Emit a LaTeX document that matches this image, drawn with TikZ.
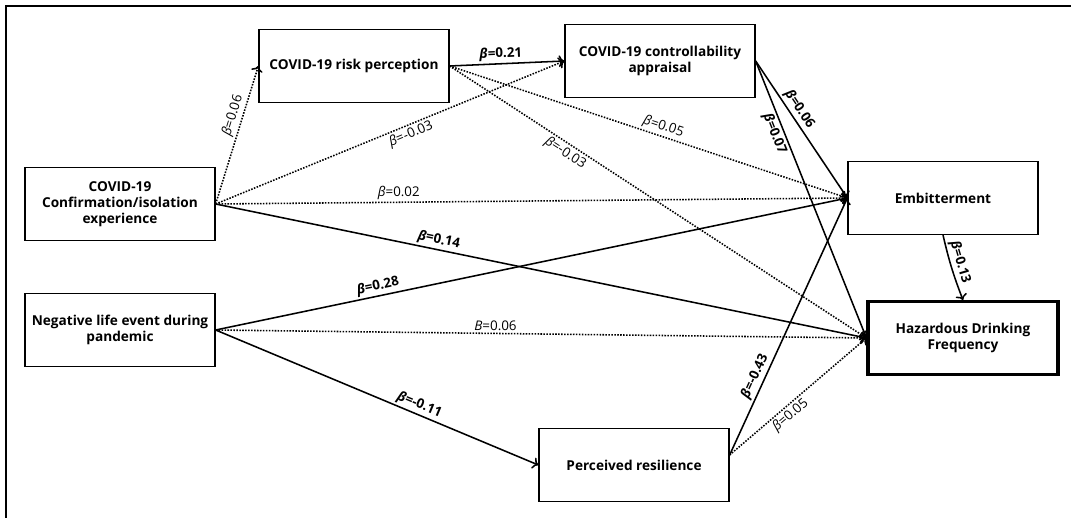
\documentclass[tikz,border=0pt]{standalone}
\usepackage{fontspec}
\setmainfont{Open Sans}
\usetikzlibrary{positioning, arrows.meta}

\newcommand{\bcoef}[1]{{\itshape β}=#1}

\tikzset{
    var/.style={draw, line width=0.9pt, minimum width=4.75cm, minimum height=1.82cm,
        align=center, font=\bfseries\fontsize{9.7}{11.5}\selectfont, inner sep=2pt},
    outcome/.style={var, line width=2.2pt},
    sig/.style={-{To[length=4pt]}, line width=1.1pt},
    nonsig/.style={-{To[length=4pt]}, line width=1.1pt, densely dotted},
    coef/.style={sloped, inner sep=1.5pt, font=\fontsize{9.5}{11}\selectfont},
    bcoefb/.style={coef, font=\bfseries\fontsize{9.5}{11}\selectfont},
}

\begin{document}
\begin{tikzpicture}[x=0.025cm, y=-0.025cm]
        \useasboundingbox (0,0) rectangle (1071,518);
        \draw[line width=1.6pt] (6,518) -- (6,6) -- (1071,6);

        \node[var] (conf) at (120, 204) {COVID-19\\Confirmation/isolation\\experience};
        \node[var] (risk) at (354, 66) {COVID-19 risk perception};
        \node[var] (ctrl) at (660, 61) {COVID-19 controllability\\appraisal};
        \node[var] (embit) at (943, 198) {Embitterment};
        \node[var] (neg) at (120, 330) {Negative life event during\\pandemic};
        \node[var] (perc) at (634, 465) {Perceived resilience};
        \node[outcome] (hazard) at (963, 338) {Hazardous Drinking\\Frequency};

        \draw[nonsig] (conf.east) -- node[coef, above, pos=0.62] {\bcoef{0.06}} (risk.west);
        \draw[nonsig] (conf.east) -- node[coef, below, pos=0.55] {\bcoef{-0.03}} (ctrl.west);
        \draw[nonsig] (conf.east) -- node[coef, above, pos=0.29] {\bcoef{0.02}} (embit.west);
        \draw[sig] (conf.east) -- node[bcoefb, above, pos=0.34] {\bcoef{0.14}} (hazard.west);

        \draw[sig] (risk.east) -- node[bcoefb, above, pos=0.45] {\bcoef{0.21}} (ctrl.west);
        \draw[nonsig] (risk.east) -- node[coef, above, pos=0.53] {\bcoef{0.05}} (embit.west);
        \draw[nonsig] (risk.east) -- node[coef, below, pos=0.29] {\bcoef{-0.03}} (hazard.west);

        \draw[sig] (ctrl.east) -- node[bcoefb, above, pos=0.39] {\bcoef{0.06}} (embit.west);
        \draw[sig] (ctrl.east) -- node[bcoefb, below, pos=0.25] {\bcoef{0.07}} (hazard.west);

        \draw[sig] (neg.east) -- node[bcoefb, above, pos=0.26] {\bcoef{0.28}} (embit.west);
        \draw[nonsig] (neg.east) -- node[coef, above, pos=0.43] {{\itshape B}=0.06} (hazard.west);
        \draw[sig] (neg.east) -- node[bcoefb, above, pos=0.62] {\bcoef{-0.11}} (perc.west);

        \draw[sig] (perc.6) -- node[bcoefb, above, pos=0.29] {\bcoef{-0.43}} (embit.west);
        \draw[nonsig] (perc.6) -- node[coef, below, pos=0.40] {\bcoef{0.05}} (hazard.west);

        \draw[sig] (embit.south) to[bend right=4] node[bcoefb, above, pos=0.45] {\bcoef{0.13}} (hazard.north);
\end{tikzpicture}
\end{document}
